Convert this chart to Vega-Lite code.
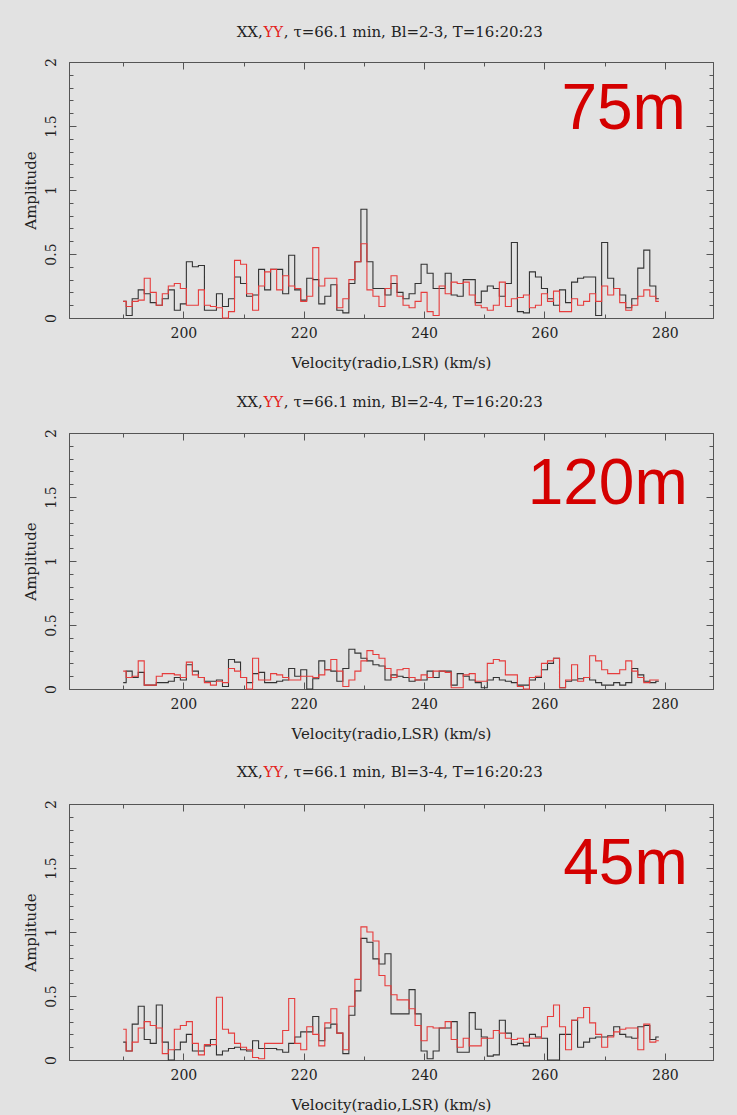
{
"$schema": "https://vega.github.io/schema/vega-lite/v6.json",
"background": "#e2e2e2",
"padding": {"left": 23, "top": 24, "right": 24, "bottom": 4},
"bounds": "flush",
"spacing": 115,
"config": {
  "view": {"stroke": null},
  "axis": {"labelFont": "DejaVu Serif", "labelFontSize": 14, "labelColor": "#222222", "titleFont": "DejaVu Serif", "titleFontSize": 15, "titleFontWeight": "normal", "titleColor": "#222222", "domainColor": "#555555", "tickColor": "#555555", "grid": false, "labelFlush": false, "labelOverlap": false}
},
"datasets": {
"b23": [
{"v":190,"XX":0.13,"YY":0.13},{"v":191,"XX":0.02,"YY":0.09},{"v":192,"XX":0.15,"YY":0.13},{"v":193,"XX":0.22,"YY":0.14},{"v":194,"XX":0.19,"YY":0.31},{"v":195,"XX":0.12,"YY":0.20},{"v":196,"XX":0.10,"YY":0.10},{"v":197,"XX":0.15,"YY":0.19},{"v":198,"XX":0.22,"YY":0.25},{"v":199,"XX":0.06,"YY":0.27},
{"v":200,"XX":0.11,"YY":0.23},{"v":201,"XX":0.44,"YY":0.10},{"v":202,"XX":0.40,"YY":0.10},{"v":203,"XX":0.41,"YY":0.22},{"v":204,"XX":0.06,"YY":0.10},{"v":205,"XX":0.06,"YY":0.09},{"v":206,"XX":0.19,"YY":0.08},{"v":207,"XX":0.09,"YY":0.00},{"v":208,"XX":0.15,"YY":0.05},{"v":209,"XX":0.32,"YY":0.45},
{"v":210,"XX":0.27,"YY":0.42},{"v":211,"XX":0.17,"YY":0.19},{"v":212,"XX":0.18,"YY":0.06},{"v":213,"XX":0.38,"YY":0.25},{"v":214,"XX":0.22,"YY":0.36},{"v":215,"XX":0.38,"YY":0.38},{"v":216,"XX":0.38,"YY":0.22},{"v":217,"XX":0.19,"YY":0.33},{"v":218,"XX":0.49,"YY":0.25},{"v":219,"XX":0.22,"YY":0.23},
{"v":220,"XX":0.14,"YY":0.13},{"v":221,"XX":0.31,"YY":0.17},{"v":222,"XX":0.30,"YY":0.55},{"v":223,"XX":0.11,"YY":0.25},{"v":224,"XX":0.17,"YY":0.31},{"v":225,"XX":0.26,"YY":0.31},{"v":226,"XX":0.06,"YY":0.08},{"v":227,"XX":0.04,"YY":0.15},{"v":228,"XX":0.27,"YY":0.30},{"v":229,"XX":0.44,"YY":0.44},
{"v":230,"XX":0.85,"YY":0.58},{"v":231,"XX":0.44,"YY":0.22},{"v":232,"XX":0.23,"YY":0.17},{"v":233,"XX":0.23,"YY":0.09},{"v":234,"XX":0.18,"YY":0.23},{"v":235,"XX":0.27,"YY":0.33},{"v":236,"XX":0.20,"YY":0.17},{"v":237,"XX":0.15,"YY":0.10},{"v":238,"XX":0.19,"YY":0.08},{"v":239,"XX":0.27,"YY":0.13},
{"v":240,"XX":0.42,"YY":0.20},{"v":241,"XX":0.35,"YY":0.05},{"v":242,"XX":0.23,"YY":0.02},{"v":243,"XX":0.23,"YY":0.25},{"v":244,"XX":0.35,"YY":0.19},{"v":245,"XX":0.18,"YY":0.28},{"v":246,"XX":0.17,"YY":0.27},{"v":247,"XX":0.30,"YY":0.28},{"v":248,"XX":0.30,"YY":0.18},{"v":249,"XX":0.12,"YY":0.10},
{"v":250,"XX":0.21,"YY":0.08},{"v":251,"XX":0.25,"YY":0.06},{"v":252,"XX":0.23,"YY":0.10},{"v":253,"XX":0.17,"YY":0.28},{"v":254,"XX":0.27,"YY":0.09},{"v":255,"XX":0.59,"YY":0.15},{"v":256,"XX":0.05,"YY":0.16},{"v":257,"XX":0.04,"YY":0.18},{"v":258,"XX":0.36,"YY":0.08},{"v":259,"XX":0.32,"YY":0.10},
{"v":260,"XX":0.23,"YY":0.19},{"v":261,"XX":0.15,"YY":0.13},{"v":262,"XX":0.10,"YY":0.21},{"v":263,"XX":0.22,"YY":0.05},{"v":264,"XX":0.12,"YY":0.05},{"v":265,"XX":0.28,"YY":0.15},{"v":266,"XX":0.31,"YY":0.10},{"v":267,"XX":0.32,"YY":0.13},{"v":268,"XX":0.32,"YY":0.19},{"v":269,"XX":0.02,"YY":0.13},
{"v":270,"XX":0.59,"YY":0.25},{"v":271,"XX":0.31,"YY":0.18},{"v":272,"XX":0.23,"YY":0.23},{"v":273,"XX":0.18,"YY":0.12},{"v":274,"XX":0.08,"YY":0.06},{"v":275,"XX":0.15,"YY":0.10},{"v":276,"XX":0.39,"YY":0.17},{"v":277,"XX":0.53,"YY":0.22},{"v":278,"XX":0.25,"YY":0.17},{"v":279,"XX":0.15,"YY":0.13}
],
"b24": [
{"v":190,"XX":0.05,"YY":0.14},{"v":191,"XX":0.14,"YY":0.09},{"v":192,"XX":0.09,"YY":0.10},{"v":193,"XX":0.13,"YY":0.22},{"v":194,"XX":0.03,"YY":0.03},{"v":195,"XX":0.03,"YY":0.03},{"v":196,"XX":0.05,"YY":0.10},{"v":197,"XX":0.05,"YY":0.12},{"v":198,"XX":0.06,"YY":0.12},{"v":199,"XX":0.09,"YY":0.11},
{"v":200,"XX":0.07,"YY":0.09},{"v":201,"XX":0.19,"YY":0.21},{"v":202,"XX":0.14,"YY":0.11},{"v":203,"XX":0.09,"YY":0.09},{"v":204,"XX":0.06,"YY":0.05},{"v":205,"XX":0.06,"YY":0.03},{"v":206,"XX":0.07,"YY":0.06},{"v":207,"XX":0.02,"YY":0.05},{"v":208,"XX":0.23,"YY":0.16},{"v":209,"XX":0.21,"YY":0.14},
{"v":210,"XX":0.09,"YY":0.09},{"v":211,"XX":0.05,"YY":0.00},{"v":212,"XX":0.12,"YY":0.24},{"v":213,"XX":0.13,"YY":0.07},{"v":214,"XX":0.05,"YY":0.07},{"v":215,"XX":0.05,"YY":0.12},{"v":216,"XX":0.06,"YY":0.11},{"v":217,"XX":0.07,"YY":0.09},{"v":218,"XX":0.16,"YY":0.07},{"v":219,"XX":0.10,"YY":0.07},
{"v":220,"XX":0.15,"YY":0.10},{"v":221,"XX":0.00,"YY":0.10},{"v":222,"XX":0.08,"YY":0.09},{"v":223,"XX":0.22,"YY":0.11},{"v":224,"XX":0.15,"YY":0.15},{"v":225,"XX":0.14,"YY":0.23},{"v":226,"XX":0.06,"YY":0.14},{"v":227,"XX":0.16,"YY":0.02},{"v":228,"XX":0.31,"YY":0.07},{"v":229,"XX":0.28,"YY":0.14},
{"v":230,"XX":0.24,"YY":0.22},{"v":231,"XX":0.22,"YY":0.30},{"v":232,"XX":0.19,"YY":0.27},{"v":233,"XX":0.18,"YY":0.24},{"v":234,"XX":0.07,"YY":0.16},{"v":235,"XX":0.11,"YY":0.09},{"v":236,"XX":0.10,"YY":0.15},{"v":237,"XX":0.09,"YY":0.16},{"v":238,"XX":0.06,"YY":0.09},{"v":239,"XX":0.07,"YY":0.07},
{"v":240,"XX":0.07,"YY":0.11},{"v":241,"XX":0.14,"YY":0.09},{"v":242,"XX":0.09,"YY":0.14},{"v":243,"XX":0.14,"YY":0.14},{"v":244,"XX":0.14,"YY":0.13},{"v":245,"XX":0.03,"YY":0.01},{"v":246,"XX":0.12,"YY":0.01},{"v":247,"XX":0.10,"YY":0.11},{"v":248,"XX":0.07,"YY":0.12},{"v":249,"XX":0.05,"YY":0.06},
{"v":250,"XX":0.01,"YY":0.06},{"v":251,"XX":0.07,"YY":0.20},{"v":252,"XX":0.09,"YY":0.23},{"v":253,"XX":0.07,"YY":0.22},{"v":254,"XX":0.06,"YY":0.11},{"v":255,"XX":0.05,"YY":0.11},{"v":256,"XX":0.03,"YY":0.02},{"v":257,"XX":0.03,"YY":0.00},{"v":258,"XX":0.07,"YY":0.09},{"v":259,"XX":0.09,"YY":0.10},
{"v":260,"XX":0.15,"YY":0.20},{"v":261,"XX":0.20,"YY":0.22},{"v":262,"XX":0.24,"YY":0.24},{"v":263,"XX":0.01,"YY":0.01},{"v":264,"XX":0.06,"YY":0.07},{"v":265,"XX":0.07,"YY":0.19},{"v":266,"XX":0.08,"YY":0.06},{"v":267,"XX":0.09,"YY":0.09},{"v":268,"XX":0.07,"YY":0.26},{"v":269,"XX":0.05,"YY":0.22},
{"v":270,"XX":0.03,"YY":0.15},{"v":271,"XX":0.03,"YY":0.12},{"v":272,"XX":0.05,"YY":0.12},{"v":273,"XX":0.03,"YY":0.15},{"v":274,"XX":0.05,"YY":0.22},{"v":275,"XX":0.16,"YY":0.14},{"v":276,"XX":0.11,"YY":0.09},{"v":277,"XX":0.06,"YY":0.05},{"v":278,"XX":0.05,"YY":0.07},{"v":279,"XX":0.06,"YY":0.07}
],
"b34": [
{"v":190,"XX":0.14,"YY":0.24},{"v":191,"XX":0.07,"YY":0.07},{"v":192,"XX":0.28,"YY":0.14},{"v":193,"XX":0.42,"YY":0.25},{"v":194,"XX":0.16,"YY":0.30},{"v":195,"XX":0.13,"YY":0.27},{"v":196,"XX":0.43,"YY":0.25},{"v":197,"XX":0.14,"YY":0.05},{"v":198,"XX":0.00,"YY":0.08},{"v":199,"XX":0.08,"YY":0.24},
{"v":200,"XX":0.14,"YY":0.27},{"v":201,"XX":0.20,"YY":0.30},{"v":202,"XX":0.07,"YY":0.13},{"v":203,"XX":0.07,"YY":0.04},{"v":204,"XX":0.11,"YY":0.12},{"v":205,"XX":0.16,"YY":0.12},{"v":206,"XX":0.04,"YY":0.49},{"v":207,"XX":0.07,"YY":0.24},{"v":208,"XX":0.09,"YY":0.21},{"v":209,"XX":0.10,"YY":0.13},
{"v":210,"XX":0.08,"YY":0.10},{"v":211,"XX":0.07,"YY":0.08},{"v":212,"XX":0.15,"YY":0.02},{"v":213,"XX":0.09,"YY":0.01},{"v":214,"XX":0.09,"YY":0.13},{"v":215,"XX":0.09,"YY":0.13},{"v":216,"XX":0.08,"YY":0.13},{"v":217,"XX":0.06,"YY":0.23},{"v":218,"XX":0.13,"YY":0.48},{"v":219,"XX":0.18,"YY":0.13},
{"v":220,"XX":0.22,"YY":0.08},{"v":221,"XX":0.22,"YY":0.26},{"v":222,"XX":0.34,"YY":0.20},{"v":223,"XX":0.15,"YY":0.11},{"v":224,"XX":0.25,"YY":0.29},{"v":225,"XX":0.28,"YY":0.40},{"v":226,"XX":0.21,"YY":0.21},{"v":227,"XX":0.05,"YY":0.08},{"v":228,"XX":0.35,"YY":0.42},{"v":229,"XX":0.54,"YY":0.63},
{"v":230,"XX":0.95,"YY":1.04},{"v":231,"XX":0.92,"YY":1.00},{"v":232,"XX":0.79,"YY":0.93},{"v":233,"XX":0.75,"YY":0.66},{"v":234,"XX":0.83,"YY":0.58},{"v":235,"XX":0.36,"YY":0.51},{"v":236,"XX":0.36,"YY":0.47},{"v":237,"XX":0.36,"YY":0.47},{"v":238,"XX":0.55,"YY":0.40},{"v":239,"XX":0.36,"YY":0.27},
{"v":240,"XX":0.07,"YY":0.15},{"v":241,"XX":0.01,"YY":0.26},{"v":242,"XX":0.07,"YY":0.25},{"v":243,"XX":0.25,"YY":0.25},{"v":244,"XX":0.25,"YY":0.30},{"v":245,"XX":0.30,"YY":0.16},{"v":246,"XX":0.06,"YY":0.10},{"v":247,"XX":0.06,"YY":0.17},{"v":248,"XX":0.37,"YY":0.11},{"v":249,"XX":0.24,"YY":0.11},
{"v":250,"XX":0.18,"YY":0.17},{"v":251,"XX":0.03,"YY":0.17},{"v":252,"XX":0.04,"YY":0.23},{"v":253,"XX":0.31,"YY":0.21},{"v":254,"XX":0.21,"YY":0.17},{"v":255,"XX":0.12,"YY":0.16},{"v":256,"XX":0.13,"YY":0.17},{"v":257,"XX":0.11,"YY":0.14},{"v":258,"XX":0.20,"YY":0.17},{"v":259,"XX":0.18,"YY":0.17},
{"v":260,"XX":0.17,"YY":0.26},{"v":261,"XX":0.00,"YY":0.34},{"v":262,"XX":0.00,"YY":0.43},{"v":263,"XX":0.20,"YY":0.26},{"v":264,"XX":0.20,"YY":0.08},{"v":265,"XX":0.31,"YY":0.31},{"v":266,"XX":0.10,"YY":0.33},{"v":267,"XX":0.14,"YY":0.41},{"v":268,"XX":0.17,"YY":0.29},{"v":269,"XX":0.18,"YY":0.20},
{"v":270,"XX":0.18,"YY":0.10},{"v":271,"XX":0.19,"YY":0.18},{"v":272,"XX":0.26,"YY":0.22},{"v":273,"XX":0.20,"YY":0.24},{"v":274,"XX":0.18,"YY":0.25},{"v":275,"XX":0.17,"YY":0.25},{"v":276,"XX":0.26,"YY":0.08},{"v":277,"XX":0.27,"YY":0.28},{"v":278,"XX":0.16,"YY":0.14},{"v":279,"XX":0.18,"YY":0.15}
]
},
"vconcat": [
{
 "width": 644, "height": 256,
 "resolve": {"axis": {"x": "independent", "y": "independent"}},
 "layer": [
  {"data": {"name": "b23"}, "transform": [{"fold": ["XX","YY"], "as": ["pol","amp"]}],
   "mark": {"type": "line", "interpolate": "step", "strokeWidth": 1.1},
   "encoding": {
    "x": {"field": "v", "type": "quantitative", "scale": {"domain": [181,288], "nice": false, "zero": false}, "axis": {"orient": "bottom", "values": [200,220,240,260,280], "format": "d", "ticks": false, "domain": true, "labelPadding": 8, "title": "Velocity(radio,LSR) (km/s)", "titlePadding": 15}},
    "y": {"field": "amp", "type": "quantitative", "scale": {"domain": [0,2], "nice": false}, "axis": {"orient": "left", "values": [0,0.5,1,1.5,2], "format": "~g", "ticks": false, "domain": true, "labelAngle": 270, "labelAlign": "center", "labelBaseline": "bottom", "labelPadding": 11, "title": "Amplitude", "titlePadding": 6}},
    "color": {"field": "pol", "type": "nominal", "scale": {"domain": ["XX","YY"], "range": ["#333333","#e63c3c"]}, "legend": null}
   }},
  {"data": {"values": [{}]}, "mark": {"type": "text", "text": "75m", "align": "right", "baseline": "alphabetic", "font": "Liberation Sans", "fontSize": 64, "color": "#d40000"},
   "encoding": {
    "x": {"datum": 283.5, "type": "quantitative", "scale": {"domain": [181,288], "nice": false, "zero": false}, "axis": {"orient": "bottom", "values": [200,220,240,260,280], "labels": false, "domain": false, "tickSize": -7, "title": null}},
    "y": {"datum": 1.477, "type": "quantitative", "scale": {"domain": [0,2], "nice": false}, "axis": {"orient": "left", "values": [0,0.5,1,1.5,2], "labels": false, "domain": false, "tickSize": -7, "title": null}}
   }},
  {"data": {"values": [{}]}, "mark": {"type": "text", "text": "XX,", "align": "right", "baseline": "middle", "font": "DejaVu Serif", "fontSize": 15, "color": "#222222"},
   "encoding": {
    "x": {"datum": 213.2, "type": "quantitative", "scale": {"domain": [181,288], "nice": false, "zero": false}, "axis": {"orient": "top", "values": [200,220,240,260,280], "labels": false, "domain": true, "tickSize": -7, "title": null}},
    "y": {"datum": 2.235, "type": "quantitative", "scale": {"domain": [0,2], "nice": false}, "axis": {"orient": "right", "values": [0,0.5,1,1.5,2], "labels": false, "domain": true, "tickSize": -7, "title": null}}
   }},
  {"data": {"values": [{}]}, "mark": {"type": "text", "text": "YY", "align": "left", "baseline": "middle", "font": "DejaVu Serif", "fontSize": 15, "color": "#e32222"},
   "encoding": {
    "x": {"datum": 213.3, "type": "quantitative", "scale": {"domain": [181,288], "nice": false, "zero": false}, "axis": {"orient": "bottom", "values": [190,200,210,220,230,240,250,260,270,280], "labels": false, "domain": false, "tickSize": -4, "title": null}},
    "y": {"datum": 2.235, "type": "quantitative", "scale": {"domain": [0,2], "nice": false}, "axis": {"orient": "left", "values": [0,0.1,0.2,0.3,0.4,0.5,0.6,0.7,0.8,0.9,1,1.1,1.2,1.3,1.4,1.5,1.6,1.7,1.8,1.9,2], "labels": false, "domain": false, "tickSize": -4, "title": null}}
   }},
  {"data": {"values": [{}]}, "mark": {"type": "text", "text": ", τ=66.1 min, Bl=2-3, T=16:20:23", "align": "left", "baseline": "middle", "font": "DejaVu Serif", "fontSize": 15, "color": "#222222"},
   "encoding": {
    "x": {"datum": 216.7, "type": "quantitative", "scale": {"domain": [181,288], "nice": false, "zero": false}, "axis": {"orient": "top", "values": [190,200,210,220,230,240,250,260,270,280], "labels": false, "domain": false, "tickSize": -4, "title": null}},
    "y": {"datum": 2.235, "type": "quantitative", "scale": {"domain": [0,2], "nice": false}, "axis": {"orient": "right", "values": [0,0.1,0.2,0.3,0.4,0.5,0.6,0.7,0.8,0.9,1,1.1,1.2,1.3,1.4,1.5,1.6,1.7,1.8,1.9,2], "labels": false, "domain": false, "tickSize": -4, "title": null}}
   }}
 ]
},
{
 "width": 644, "height": 256,
 "resolve": {"axis": {"x": "independent", "y": "independent"}},
 "layer": [
  {"data": {"name": "b24"}, "transform": [{"fold": ["XX","YY"], "as": ["pol","amp"]}],
   "mark": {"type": "line", "interpolate": "step", "strokeWidth": 1.1},
   "encoding": {
    "x": {"field": "v", "type": "quantitative", "scale": {"domain": [181,288], "nice": false, "zero": false}, "axis": {"orient": "bottom", "values": [200,220,240,260,280], "format": "d", "ticks": false, "domain": true, "labelPadding": 8, "title": "Velocity(radio,LSR) (km/s)", "titlePadding": 15}},
    "y": {"field": "amp", "type": "quantitative", "scale": {"domain": [0,2], "nice": false}, "axis": {"orient": "left", "values": [0,0.5,1,1.5,2], "format": "~g", "ticks": false, "domain": true, "labelAngle": 270, "labelAlign": "center", "labelBaseline": "bottom", "labelPadding": 11, "title": "Amplitude", "titlePadding": 6}},
    "color": {"field": "pol", "type": "nominal", "scale": {"domain": ["XX","YY"], "range": ["#333333","#e63c3c"]}, "legend": null}
   }},
  {"data": {"values": [{}]}, "mark": {"type": "text", "text": "120m", "align": "right", "baseline": "alphabetic", "font": "Liberation Sans", "fontSize": 64, "color": "#d40000"},
   "encoding": {
    "x": {"datum": 283.8, "type": "quantitative", "scale": {"domain": [181,288], "nice": false, "zero": false}, "axis": {"orient": "bottom", "values": [200,220,240,260,280], "labels": false, "domain": false, "tickSize": -7, "title": null}},
    "y": {"datum": 1.445, "type": "quantitative", "scale": {"domain": [0,2], "nice": false}, "axis": {"orient": "left", "values": [0,0.5,1,1.5,2], "labels": false, "domain": false, "tickSize": -7, "title": null}}
   }},
  {"data": {"values": [{}]}, "mark": {"type": "text", "text": "XX,", "align": "right", "baseline": "middle", "font": "DejaVu Serif", "fontSize": 15, "color": "#222222"},
   "encoding": {
    "x": {"datum": 213.2, "type": "quantitative", "scale": {"domain": [181,288], "nice": false, "zero": false}, "axis": {"orient": "top", "values": [200,220,240,260,280], "labels": false, "domain": true, "tickSize": -7, "title": null}},
    "y": {"datum": 2.245, "type": "quantitative", "scale": {"domain": [0,2], "nice": false}, "axis": {"orient": "right", "values": [0,0.5,1,1.5,2], "labels": false, "domain": true, "tickSize": -7, "title": null}}
   }},
  {"data": {"values": [{}]}, "mark": {"type": "text", "text": "YY", "align": "left", "baseline": "middle", "font": "DejaVu Serif", "fontSize": 15, "color": "#e32222"},
   "encoding": {
    "x": {"datum": 213.3, "type": "quantitative", "scale": {"domain": [181,288], "nice": false, "zero": false}, "axis": {"orient": "bottom", "values": [190,200,210,220,230,240,250,260,270,280], "labels": false, "domain": false, "tickSize": -4, "title": null}},
    "y": {"datum": 2.245, "type": "quantitative", "scale": {"domain": [0,2], "nice": false}, "axis": {"orient": "left", "values": [0,0.1,0.2,0.3,0.4,0.5,0.6,0.7,0.8,0.9,1,1.1,1.2,1.3,1.4,1.5,1.6,1.7,1.8,1.9,2], "labels": false, "domain": false, "tickSize": -4, "title": null}}
   }},
  {"data": {"values": [{}]}, "mark": {"type": "text", "text": ", τ=66.1 min, Bl=2-4, T=16:20:23", "align": "left", "baseline": "middle", "font": "DejaVu Serif", "fontSize": 15, "color": "#222222"},
   "encoding": {
    "x": {"datum": 216.7, "type": "quantitative", "scale": {"domain": [181,288], "nice": false, "zero": false}, "axis": {"orient": "top", "values": [190,200,210,220,230,240,250,260,270,280], "labels": false, "domain": false, "tickSize": -4, "title": null}},
    "y": {"datum": 2.245, "type": "quantitative", "scale": {"domain": [0,2], "nice": false}, "axis": {"orient": "right", "values": [0,0.1,0.2,0.3,0.4,0.5,0.6,0.7,0.8,0.9,1,1.1,1.2,1.3,1.4,1.5,1.6,1.7,1.8,1.9,2], "labels": false, "domain": false, "tickSize": -4, "title": null}}
   }}
 ]
},
{
 "width": 644, "height": 256,
 "resolve": {"axis": {"x": "independent", "y": "independent"}},
 "layer": [
  {"data": {"name": "b34"}, "transform": [{"fold": ["XX","YY"], "as": ["pol","amp"]}],
   "mark": {"type": "line", "interpolate": "step", "strokeWidth": 1.1},
   "encoding": {
    "x": {"field": "v", "type": "quantitative", "scale": {"domain": [181,288], "nice": false, "zero": false}, "axis": {"orient": "bottom", "values": [200,220,240,260,280], "format": "d", "ticks": false, "domain": true, "labelPadding": 8, "title": "Velocity(radio,LSR) (km/s)", "titlePadding": 15}},
    "y": {"field": "amp", "type": "quantitative", "scale": {"domain": [0,2], "nice": false}, "axis": {"orient": "left", "values": [0,0.5,1,1.5,2], "format": "~g", "ticks": false, "domain": true, "labelAngle": 270, "labelAlign": "center", "labelBaseline": "bottom", "labelPadding": 11, "title": "Amplitude", "titlePadding": 6}},
    "color": {"field": "pol", "type": "nominal", "scale": {"domain": ["XX","YY"], "range": ["#333333","#e63c3c"]}, "legend": null}
   }},
  {"data": {"values": [{}]}, "mark": {"type": "text", "text": "45m", "align": "right", "baseline": "alphabetic", "font": "Liberation Sans", "fontSize": 64, "color": "#d40000"},
   "encoding": {
    "x": {"datum": 283.8, "type": "quantitative", "scale": {"domain": [181,288], "nice": false, "zero": false}, "axis": {"orient": "bottom", "values": [200,220,240,260,280], "labels": false, "domain": false, "tickSize": -7, "title": null}},
    "y": {"datum": 1.375, "type": "quantitative", "scale": {"domain": [0,2], "nice": false}, "axis": {"orient": "left", "values": [0,0.5,1,1.5,2], "labels": false, "domain": false, "tickSize": -7, "title": null}}
   }},
  {"data": {"values": [{}]}, "mark": {"type": "text", "text": "XX,", "align": "right", "baseline": "middle", "font": "DejaVu Serif", "fontSize": 15, "color": "#222222"},
   "encoding": {
    "x": {"datum": 213.2, "type": "quantitative", "scale": {"domain": [181,288], "nice": false, "zero": false}, "axis": {"orient": "top", "values": [200,220,240,260,280], "labels": false, "domain": true, "tickSize": -7, "title": null}},
    "y": {"datum": 2.25, "type": "quantitative", "scale": {"domain": [0,2], "nice": false}, "axis": {"orient": "right", "values": [0,0.5,1,1.5,2], "labels": false, "domain": true, "tickSize": -7, "title": null}}
   }},
  {"data": {"values": [{}]}, "mark": {"type": "text", "text": "YY", "align": "left", "baseline": "middle", "font": "DejaVu Serif", "fontSize": 15, "color": "#e32222"},
   "encoding": {
    "x": {"datum": 213.3, "type": "quantitative", "scale": {"domain": [181,288], "nice": false, "zero": false}, "axis": {"orient": "bottom", "values": [190,200,210,220,230,240,250,260,270,280], "labels": false, "domain": false, "tickSize": -4, "title": null}},
    "y": {"datum": 2.25, "type": "quantitative", "scale": {"domain": [0,2], "nice": false}, "axis": {"orient": "left", "values": [0,0.1,0.2,0.3,0.4,0.5,0.6,0.7,0.8,0.9,1,1.1,1.2,1.3,1.4,1.5,1.6,1.7,1.8,1.9,2], "labels": false, "domain": false, "tickSize": -4, "title": null}}
   }},
  {"data": {"values": [{}]}, "mark": {"type": "text", "text": ", τ=66.1 min, Bl=3-4, T=16:20:23", "align": "left", "baseline": "middle", "font": "DejaVu Serif", "fontSize": 15, "color": "#222222"},
   "encoding": {
    "x": {"datum": 216.7, "type": "quantitative", "scale": {"domain": [181,288], "nice": false, "zero": false}, "axis": {"orient": "top", "values": [190,200,210,220,230,240,250,260,270,280], "labels": false, "domain": false, "tickSize": -4, "title": null}},
    "y": {"datum": 2.25, "type": "quantitative", "scale": {"domain": [0,2], "nice": false}, "axis": {"orient": "right", "values": [0,0.1,0.2,0.3,0.4,0.5,0.6,0.7,0.8,0.9,1,1.1,1.2,1.3,1.4,1.5,1.6,1.7,1.8,1.9,2], "labels": false, "domain": false, "tickSize": -4, "title": null}}
   }}
 ]
}
]
}
